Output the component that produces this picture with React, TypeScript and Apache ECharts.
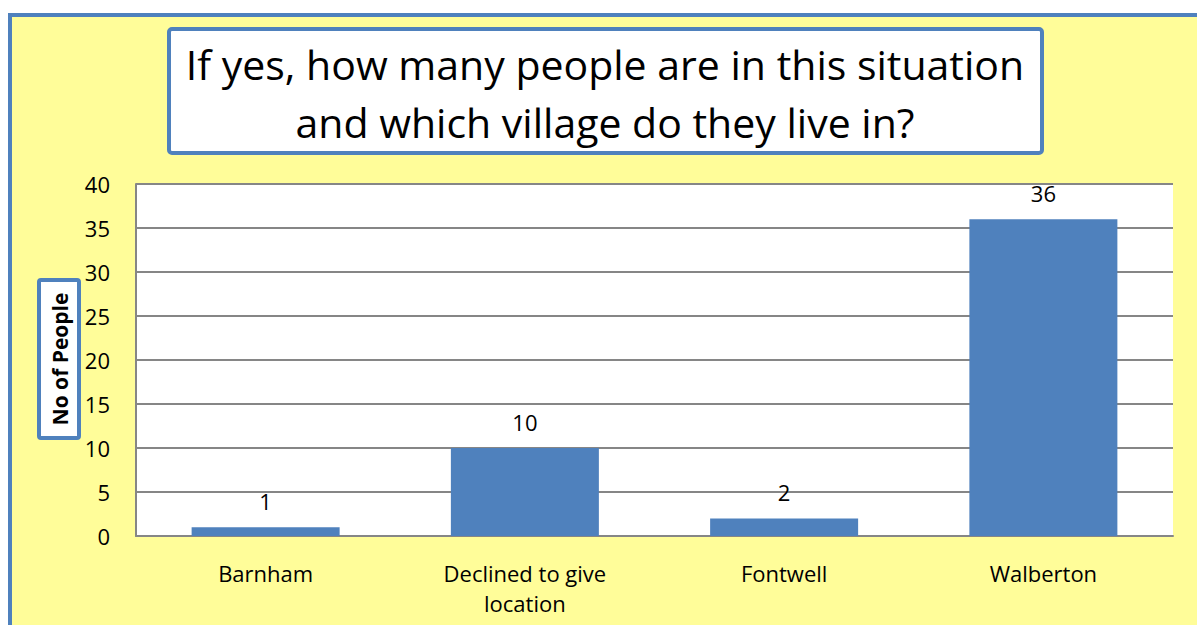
import React, { useEffect, useRef } from "react";
import * as echarts from "echarts";

const categories = ["Barnham", "Declined to give\nlocation", "Fontwell", "Walberton"];
const values = [1, 10, 2, 36];
const titleLines = ["If yes, how many people are in this situation", "and which village do they live in?"];
const yAxisName = "No of People";

const FONT = "'Open Sans', 'Noto Sans', sans-serif";
const BLUE = "#4F81BD";

export default function App() {
  const ref = useRef<HTMLDivElement>(null);
  useEffect(() => {
    if (!ref.current) return;
    const chart = echarts.init(ref.current, null, { renderer: "svg" });
    chart.setOption({
      animation: false,
      backgroundColor: "#ffffff",
      graphic: [
        {
          type: "rect",
          z: -10,
          shape: { x: 10, y: 15, width: 1400, height: 800 },
          style: { fill: "#FFFD99", stroke: BLUE, lineWidth: 4 },
        },
        {
          type: "rect",
          z: 10,
          shape: { x: 169, y: 29, width: 873, height: 124, r: 3 },
          style: { fill: "#ffffff", stroke: BLUE, lineWidth: 4 },
        },
        {
          type: "text",
          z: 11,
          x: 605,
          y: 64,
          style: {
            text: titleLines[0],
            font: `41px ${FONT}`,
            fill: "#000",
            align: "center",
            verticalAlign: "middle",
          },
        },
        {
          type: "text",
          z: 11,
          x: 605,
          y: 122,
          style: {
            text: titleLines[1],
            font: `41px ${FONT}`,
            fill: "#000",
            align: "center",
            verticalAlign: "middle",
          },
        },
        {
          type: "rect",
          z: 10,
          shape: { x: 39, y: 280, width: 40, height: 158, r: 2 },
          style: { fill: "#ffffff", stroke: BLUE, lineWidth: 4 },
        },
        {
          type: "text",
          z: 11,
          x: 60,
          y: 359,
          rotation: Math.PI / 2,
          style: {
            text: yAxisName,
            font: `bold 21px ${FONT}`,
            fill: "#000",
            align: "center",
            verticalAlign: "middle",
          },
        },
      ],
      grid: {
        left: 136,
        top: 184,
        right: 24,
        bottom: 89,
        show: true,
        backgroundColor: "#ffffff",
        borderWidth: 0,
      },
      xAxis: {
        type: "category",
        data: categories,
        axisLine: { show: true, lineStyle: { color: "#868686", width: 2 } },
        axisTick: { show: false },
        axisLabel: {
          color: "#000",
          fontFamily: FONT,
          fontSize: 22,
          margin: 22,
          lineHeight: 30,
        },
      },
      yAxis: {
        type: "value",
        min: 0,
        max: 40,
        interval: 5,
        axisLine: { show: true, lineStyle: { color: "#868686", width: 2 } },
        axisTick: { show: false },
        splitLine: { show: true, lineStyle: { color: "#868686", width: 2 } },
        axisLabel: { color: "#000", fontFamily: FONT, fontSize: 22, margin: 26 },
      },
      series: [
        {
          type: "bar",
          data: values,
          barWidth: 148,
          itemStyle: { color: BLUE },
          label: {
            show: true,
            position: "top",
            distance: 15,
            color: "#000",
            fontFamily: FONT,
            fontSize: 22,
          },
        },
      ],
    });
    return () => chart.dispose();
  }, []);
  return (
    <div
      ref={ref}
      style={{ position: "absolute", left: 0, top: 0, width: 1197, height: 625 }}
    />
  );
}
